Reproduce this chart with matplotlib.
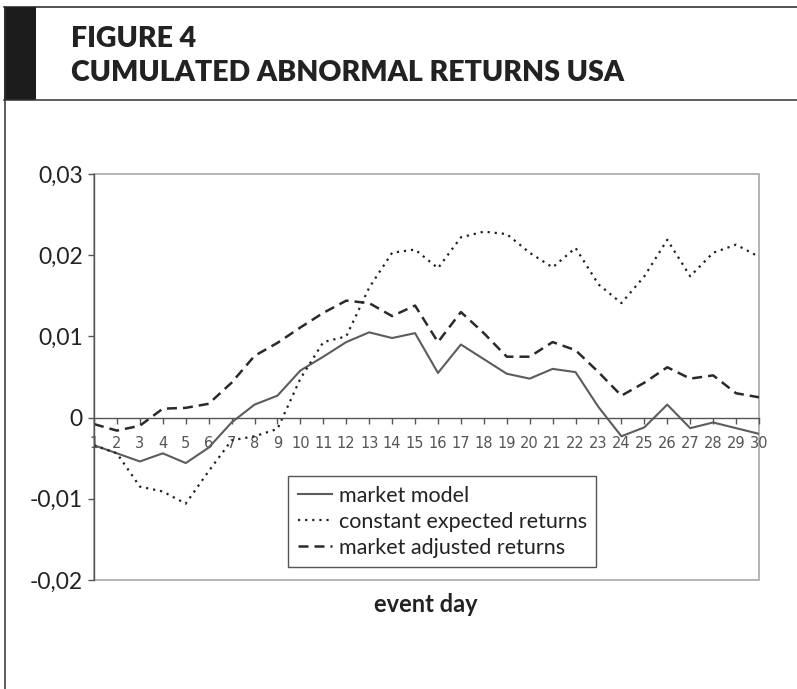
import matplotlib
matplotlib.use('Agg')
import matplotlib.pyplot as plt
from matplotlib.patches import Rectangle
from matplotlib.lines import Line2D

days = list(range(1, 31))
market_model = [-0.0034, -0.0044, -0.0054, -0.0044, -0.0056, -0.0037, -0.0006, 0.0016, 0.0027, 0.0058,
                0.0075, 0.0093, 0.0105, 0.0098, 0.0104, 0.0055, 0.0090, 0.0072, 0.0054, 0.0048,
                0.0060, 0.0056, 0.0013, -0.0023, -0.0012, 0.0016, -0.0013, -0.0006, -0.0013, -0.0020]
constant_expected = [-0.0034, -0.0044, -0.0085, -0.0091, -0.0106, -0.0066, -0.0028, -0.0023, -0.0014, 0.0048,
                     0.0093, 0.0100, 0.0160, 0.0203, 0.0207, 0.0184, 0.0222, 0.0229, 0.0226, 0.0203,
                     0.0185, 0.0209, 0.0164, 0.0141, 0.0174, 0.0219, 0.0174, 0.0203, 0.0213, 0.0198]
market_adjusted = [-0.0008, -0.0016, -0.0010, 0.0011, 0.0012, 0.0017, 0.0043, 0.0076, 0.0092, 0.0111,
                   0.0129, 0.0144, 0.0141, 0.0125, 0.0138, 0.0093, 0.0130, 0.0104, 0.0075, 0.0075,
                   0.0093, 0.0083, 0.0056, 0.0027, 0.0043, 0.0062, 0.0048, 0.0052, 0.0030, 0.0025]
series_labels = ['market model', 'constant expected returns', 'market adjusted returns']
y_ticks = [-0.02, -0.01, 0, 0.01, 0.02, 0.03]
y_tick_labels = ['-0,02', '-0,01', '0', '0,01', '0,02', '0,03']
title_line1 = 'FIGURE 4'
title_line2 = 'CUMULATED ABNORMAL RETURNS USA'
x_label = 'event day'

W, H = 797, 689
fig = plt.figure(figsize=(W / 100, H / 100), dpi=100)
fig.patch.set_facecolor('white')


def fx(px):
    return px / W


def fy(py):
    return 1 - py / H


# Title box decorations
fig.add_artist(Rectangle((fx(4), fy(100)), fx(36) - fx(4), fy(7) - fy(100),
                         transform=fig.transFigure, facecolor='#1c1c1c', edgecolor='none'))
fig.add_artist(Line2D([fx(4), 1], [fy(6.5), fy(6.5)], transform=fig.transFigure, color='#222222', lw=1.1))
fig.add_artist(Line2D([fx(4), 1], [fy(100), fy(100)], transform=fig.transFigure, color='#333333', lw=1.1))
fig.add_artist(Line2D([fx(4.5), fx(4.5)], [fy(6.5), 0], transform=fig.transFigure, color='#333333', lw=1.1))

fig.text(fx(71), fy(47), title_line1, fontfamily='Lato', fontweight='heavy', fontsize=20.5,
         color='#222222', va='baseline', ha='left')
fig.text(fx(71), fy(81), title_line2, fontfamily='Lato', fontweight='heavy', fontsize=20.5,
         color='#222222', va='baseline', ha='left')

ax = fig.add_axes([fx(94), fy(580), fx(759) - fx(94), fy(174) - fy(580)])
ax.set_xlim(1, 30)
ax.set_ylim(-0.02, 0.03)

l1, = ax.plot(days, market_model, color='#5c5c5c', lw=1.5, linestyle='-', label=series_labels[0])
l2, = ax.plot(days, constant_expected, color='#222222', lw=1.6, linestyle=(0, (1, 2.2)), label=series_labels[1])
l3, = ax.plot(days, market_adjusted, color='#2a2a2a', lw=1.8, linestyle=(0, (4, 2.4)), label=series_labels[2])

# plot area frame
ax.add_patch(Rectangle((0, 0), 1, 1, transform=ax.transAxes, fill=False, edgecolor='#a8a8a8', lw=1.2,
                       zorder=0.5, clip_on=False))
for s in ['top', 'right']:
    ax.spines[s].set_visible(False)
ax.spines['left'].set_color('#555555')
ax.spines['left'].set_linewidth(1.0)
ax.spines['bottom'].set_position(('data', 0))
ax.spines['bottom'].set_color('#555555')
ax.spines['bottom'].set_linewidth(1.0)

ax.set_yticks(y_ticks)
ax.set_yticklabels(y_tick_labels)
ax.set_xticks(days)
ax.set_xticklabels([str(d) for d in days])
ax.tick_params(axis='y', direction='out', length=4, width=1, color='#555555', pad=4,
               labelsize=16.5, labelcolor='#222222')
for t in ax.get_yticklabels():
    t.set_fontfamily('Lato')
ax.tick_params(axis='x', direction='out', length=4, width=1, color='#555555', pad=9,
               labelsize=10.5, labelcolor='#555555')
for t in ax.get_xticklabels():
    t.set_fontfamily(['Liberation Sans Narrow', 'DejaVu Sans'])

leg = ax.legend(handles=[l1, l2, l3], loc='upper left', bbox_to_anchor=(fx(288), fy(476)),
                bbox_transform=fig.transFigure, borderaxespad=0, frameon=True, fancybox=False,
                framealpha=1, edgecolor='#555555', handlelength=1.6,
                handletextpad=0.3, labelspacing=0.28, borderpad=0.45,
                prop={'family': 'Lato', 'size': 15.5})
leg.get_frame().set_linewidth(1.0)
for t in leg.get_texts():
    t.set_color('#222222')

fig.text(fx(425.5), fy(611.7), x_label, fontfamily='Lato', fontweight='bold', fontsize=17,
         color='#222222', ha='center', va='baseline')

fig.savefig('out.png', dpi=100, facecolor='white')
